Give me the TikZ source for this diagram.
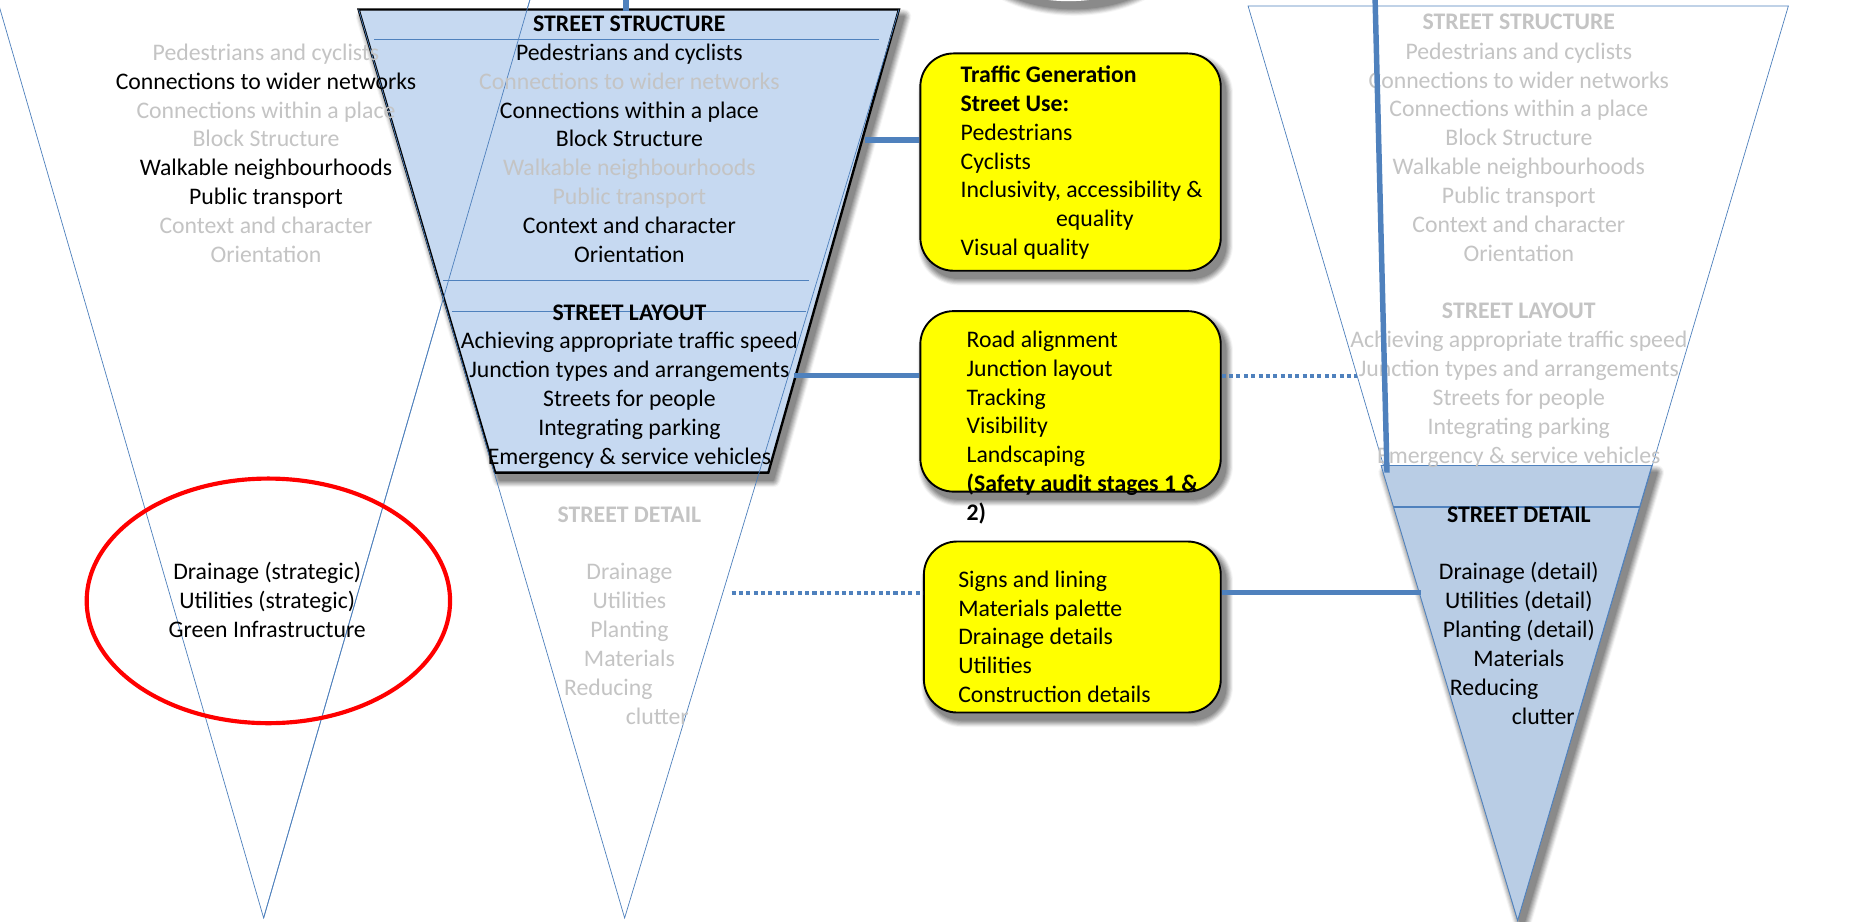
\documentclass[tikz,border=0pt]{standalone}
\usepackage{fontspec}
\setmainfont{Carlito}
\definecolor{trapfill}{HTML}{C6D9F1}
\definecolor{detailfill}{HTML}{B9CDE5}
\definecolor{accent}{HTML}{4F81BD}
\definecolor{ghostgray}{HTML}{C4C4C4}
\definecolor{boxyellow}{HTML}{FFFF00}

\tikzset{
  txt/.style={anchor=base, inner sep=0pt, outer sep=0pt,
    font=\fontsize{20pt}{24.3pt}\selectfont},
  hdr/.style={font=\fontsize{20pt}{24.3pt}\selectfont\bfseries},
  dim/.style={text=ghostgray},
  lefttxt/.style={txt, anchor=base west},
  ghostline/.style={draw=accent, line width=0.6pt},
  ybox/.style={draw=black, line width=1.6pt, fill=boxyellow,
    rounded corners=28pt, inner sep=0pt},
  conn/.style={draw=accent, line width=4.6pt},
  dotconn/.style={draw=accent, line width=3.4pt, dash pattern=on 3.4pt off 2.8pt},
  rowline/.style={draw=accent, line width=1pt},
}

% one line of text on the common row grid
\newcommand\rowtext[5]{\node[txt,#4] (#1) at (#2,{26.5+24.3*(#3)}) {#5};}
% soft shadow: the given path, offset down and right, drawn as graded grey
% layers from a wide light halo to a narrow dark core
\newcommand\blurshadow[1]{%
  \begin{scope}[shift={(4,6)}]
  \foreach \k in {1,...,7}{%
    \pgfmathsetmacro\shade{4+7*(\k-1)}%
    \pgfmathsetmacro\spread{1.8*(8-\k)}%
    \path[fill=black!\shade, draw=black!\shade, line width=\spread pt,
      line join=round] #1;}
  \end{scope}}

\begin{document}
\begin{tikzpicture}[x=1pt, y=-1pt]
  \fill[white] (0,0) rectangle (1568,776);
  \useasboundingbox (0,0) rectangle (1568,776);

  % shadow of the shape above the top edge
  \blurshadow{(900,-57) ellipse [x radius=92, y radius=58]}
  \fill[white] (900,-57) ellipse [x radius=92, y radius=58];

  % ---------------- left outline triangle ----------------
  \draw[ghostline] (-8,-20) -- (222,773) -- (452,-20);

  % ---------------- street structure / layout trapezoid ----------------
  \blurshadow{(302,8) -- (757,8) -- (647,398) -- (417,398) -- cycle}
  \path[fill=trapfill, draw=black, line width=2pt, line join=miter]
    (302,8) -- (757,8) -- (647,398) -- (417,398) -- cycle;
  \draw[rowline] (315,33) -- (740,33);
  \draw[rowline] (373,236) -- (681,236);
  \draw[rowline] (381,262) -- (679,262);

  % middle outline triangle and left triangle edge over the fill
  \draw[ghostline] (302,8) -- (526,773) -- (757,8);
  \draw[ghostline] (222,773) -- (452,-20);

  % ---------------- street detail triangle and right outline triangle ----------------
  \blurshadow{(1163,392) -- (1391,392) -- (1278,775) -- cycle}
  \draw[ghostline] (1051,5) -- (1506,5) -- (1278,775) -- cycle;
  \path[fill=detailfill, draw=accent, line width=0.7pt]
    (1163,392) -- (1391,392) -- (1278,775) -- cycle;
  \draw[rowline] (1174,427) -- (1381,427);

  % ---------------- red ellipse ----------------
  \draw[red, line width=3.5pt] (226,506) ellipse [x radius=153, y radius=103];

  % ---------------- left column ----------------
  \rowtext{l1}{224}{1}{dim}{Pedestrians and cyclists}
  \rowtext{l2}{224}{2}{}{Connections to wider networks}
  \rowtext{l3}{224}{3}{dim}{Connections within a place}
  \rowtext{l4}{224}{4}{dim}{Block Structure}
  \rowtext{l5}{224}{5}{}{Walkable neighbourhoods}
  \rowtext{l6}{224}{6}{}{Public transport}
  \rowtext{l7}{224}{7}{dim}{Context and character}
  \rowtext{l8}{224}{8}{dim}{Orientation}
  \rowtext{l19}{225}{19}{}{Drainage (strategic)}
  \rowtext{l20}{225}{20}{}{Utilities (strategic)}
  \rowtext{l21}{225}{21}{}{Green Infrastructure}

  % ---------------- middle column ----------------
  \rowtext{m0}{530}{0}{hdr}{STREET STRUCTURE}
  \rowtext{m1}{530}{1}{}{Pedestrians and cyclists}
  \rowtext{m2}{530}{2}{dim}{Connections to wider networks}
  \rowtext{m3}{530}{3}{}{Connections within a place}
  \rowtext{m4}{530}{4}{}{Block Structure}
  \rowtext{m5}{530}{5}{dim}{Walkable neighbourhoods}
  \rowtext{m6}{530}{6}{dim}{Public transport}
  \rowtext{m7}{530}{7}{}{Context and character}
  \rowtext{m8}{530}{8}{}{Orientation}
  \rowtext{m10}{530}{10}{hdr}{STREET LAYOUT}
  \rowtext{m11}{530}{11}{}{Achieving appropriate traffic speed}
  \rowtext{m12}{530}{12}{}{Junction types and arrangements}
  \rowtext{m13}{530}{13}{}{Streets for people}
  \rowtext{m14}{530}{14}{}{Integrating parking}
  \rowtext{m15}{530}{15}{}{Emergency \& service vehicles}
  \rowtext{m17}{530}{17}{hdr,dim}{STREET DETAIL}
  \rowtext{m19}{530}{19}{dim}{Drainage}
  \rowtext{m20}{530}{20}{dim}{Utilities}
  \rowtext{m21}{530}{21}{dim}{Planting}
  \rowtext{m22}{530}{22}{dim}{Materials}
  \rowtext{m23}{475}{23}{dim,anchor=base west}{Reducing}
  \rowtext{m24}{580}{24}{dim,anchor=base east}{clutter}

  % ---------------- right column ----------------
  \rowtext{r0}{1279}{-0.08}{hdr,dim}{STREET STRUCTURE}
  \rowtext{r1}{1279}{0.96}{dim}{Pedestrians and cyclists}
  \rowtext{r2}{1279}{1.96}{dim}{Connections to wider networks}
  \rowtext{r3}{1279}{2.96}{dim}{Connections within a place}
  \rowtext{r4}{1279}{3.96}{dim}{Block Structure}
  \rowtext{r5}{1279}{4.96}{dim}{Walkable neighbourhoods}
  \rowtext{r6}{1279}{5.96}{dim}{Public transport}
  \rowtext{r7}{1279}{6.96}{dim}{Context and character}
  \rowtext{r8}{1279}{7.96}{dim}{Orientation}
  \rowtext{r10}{1279}{9.96}{hdr,dim}{STREET LAYOUT}
  \rowtext{r11}{1279}{10.96}{dim}{Achieving appropriate traffic speed}
  \rowtext{r12}{1279}{11.96}{dim}{Junction types and arrangements}
  \rowtext{r13}{1279}{12.96}{dim}{Streets for people}
  \rowtext{r14}{1279}{13.96}{dim}{Integrating parking}
  \rowtext{r15}{1279}{14.96}{dim}{Emergency \& service vehicles}
  \rowtext{r17}{1279}{17}{hdr}{STREET DETAIL}
  \rowtext{r19}{1279}{19}{}{Drainage (detail)}
  \rowtext{r20}{1279}{20}{}{Utilities (detail)}
  \rowtext{r21}{1279}{21}{}{Planting (detail)}
  \rowtext{r22}{1279}{22}{}{Materials}
  \rowtext{r23}{1221}{23}{anchor=base west}{Reducing}
  \rowtext{r24}{1326}{24}{anchor=base east}{clutter}

  % ---------------- connectors ----------------
  \coordinate (s0) at (527,0);
  \coordinate (s1) at (527,9);
  \draw[conn] (s0) -- (s1);
  \coordinate (v0) at (1158,0);
  \coordinate (v1) at (1168,398);
  \draw[conn] (v0) -- (v1);

  % ---------------- yellow boxes ----------------
  \blurshadow{[rounded corners=28pt] (775,45) rectangle (1028,228)}
  \blurshadow{[rounded corners=28pt] (775,262) rectangle (1028,414)}
  \blurshadow{[rounded corners=28pt] (778,456) rectangle (1028,600)}
  \node[ybox, minimum width=253pt, minimum height=183pt] (b1) at (901.5,136.5) {};
  \node[ybox, minimum width=253pt, minimum height=152pt] (b2) at (901.5,338) {};
  \node[ybox, minimum width=250pt, minimum height=144pt] (b3) at (903,528) {};

  \coordinate (t1) at (728,118);
  \draw[conn] (t1) -- (t1 -| b1.west);
  \coordinate (t2) at (669,316);
  \draw[conn] (t2) -- (t2 -| b2.west);
  \coordinate (g1) at (1143,317);
  \draw[dotconn] (g1 -| b2.east) -- (g1);
  \coordinate (g2) at (616,499);
  \draw[dotconn] (g2) -- (g2 -| b3.west);
  \coordinate (d1) at (1197,499);
  \draw[conn] (d1 -| b3.east) -- (d1);

  % texts of the yellow boxes
  \node[lefttxt, hdr] (k0) at (809,69.5) {Traffic Generation};
  \node[lefttxt, hdr] (k1) at (809,93.8) {Street Use:};
  \node[lefttxt] (k2) at (809,118.1) {Pedestrians};
  \node[lefttxt] (k3) at (809,142.4) {Cyclists};
  \node[lefttxt] (k4) at (809,166.7) {Inclusivity, accessibility \&};
  \node[txt] (k5) at (922,191) {equality};
  \node[lefttxt] (k6) at (809,215.3) {Visual quality};

  \node[lefttxt] (j0) at (814,292.5) {Road alignment};
  \node[lefttxt] (j1) at (814,316.8) {Junction layout};
  \node[lefttxt] (j2) at (814,341.1) {Tracking};
  \node[lefttxt] (j3) at (814,365.4) {Visibility};
  \node[lefttxt] (j4) at (814,389.7) {Landscaping};
  \node[lefttxt, hdr] (j5) at (814,414) {(Safety audit stages 1 \&};
  \node[lefttxt, hdr] (j6) at (814,438.3) {2)};

  \node[lefttxt] (h0) at (807,494.5) {Signs and lining};
  \node[lefttxt] (h1) at (807,518.8) {Materials palette};
  \node[lefttxt] (h2) at (807,543.1) {Drainage details};
  \node[lefttxt] (h3) at (807,567.4) {Utilities};
  \node[lefttxt] (h4) at (807,591.7) {Construction details};
\end{tikzpicture}
\end{document}
